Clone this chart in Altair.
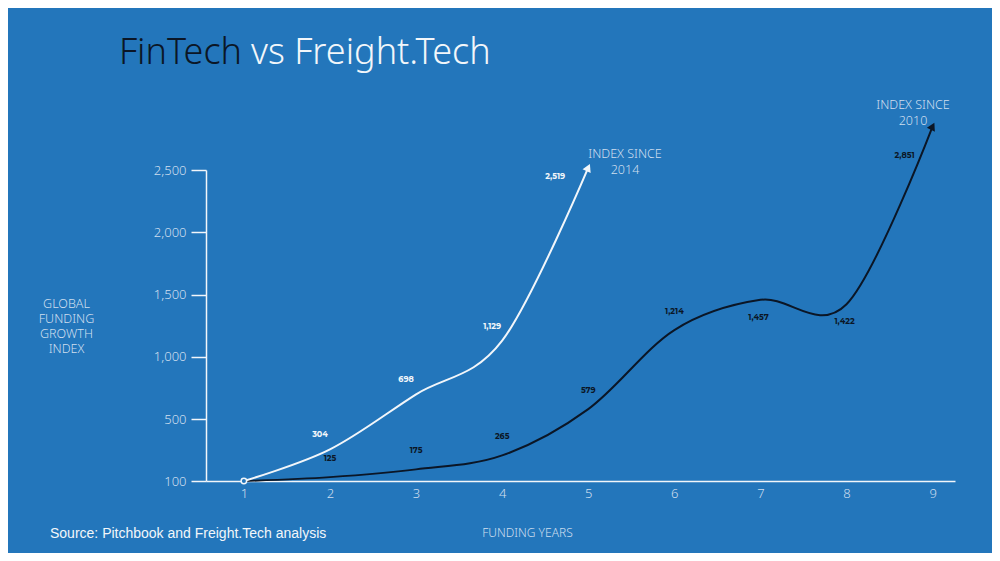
import altair as alt
import pandas as pd

# données
YEARS_FIN = [1, 2, 3, 4, 5]
FINTECH = [100, 304, 698, 1129, 2519]
YEARS_FREIGHT = [1, 2, 3, 4, 5, 6, 7, 8, 9]
FREIGHT = [100, 125, 175, 265, 579, 1214, 1457, 1422, 2851]
Y_TICKS = [100, 500, 1000, 1500, 2000, 2500]
X_TICKS = [1, 2, 3, 4, 5, 6, 7, 8, 9]

BG = "#2376bb"
LIGHT = "#cfdfef"
WHITE = "#f2f6fa"
DARK = "#0b1626"
FONT = "Noto Sans"

fin = pd.DataFrame({"annee": YEARS_FIN, "indice": FINTECH})
fin["label"] = [f"{v:,}" for v in FINTECH]
frt = pd.DataFrame({"annee": YEARS_FREIGHT, "indice": FREIGHT})
frt["label"] = [f"{v:,}" for v in FREIGHT]
one = pd.DataFrame({"k": [0]})  # une seule ligne pour les textes libres

W, H = 749, 311

x_enc = alt.X(
    "annee:Q",
    scale=alt.Scale(domain=[0.56, 9.26], nice=False, zero=False),
    axis=alt.Axis(
        values=X_TICKS, format="d", ticks=False, grid=False,
        domainColor=WHITE, domainWidth=1.5,
        labelColor=LIGHT, labelFontSize=13, labelFont=FONT, labelPadding=6,
        labelFontWeight=300,
        title="FUNDING YEARS", titleColor=LIGHT, titleFont=FONT,
        titleFontSize=12, titleFontWeight=300,
        titleX=321, titleY=51, titleBaseline="middle", titleAnchor="start",
        titleAlign="center",
    ),
)
y_enc = alt.Y(
    "indice:Q",
    # échelle par morceaux : 100 posé sur l'axe, puis pas régulier de 500
    scale=alt.Scale(domain=[100, 500, 2500], range=[H, H - 62, 0],
                    nice=False, zero=False),
    axis=alt.Axis(
        values=Y_TICKS, format=",d", grid=False,
        domainColor=WHITE, domainWidth=1.5,
        tickColor=WHITE, tickWidth=1.5, tickSize=15,
        labelColor=LIGHT, labelFontSize=13, labelFont=FONT, labelPadding=5,
        labelFontWeight=300,
        title=["GLOBAL", "FUNDING", "GROWTH", "INDEX"],
        titleColor=LIGHT, titleFont=FONT, titleFontSize=12.5,
        titleFontWeight=300, titleAngle=0, titleAlign="center",
        titleBaseline="top", titleX=-140, titleY=127, titleLineHeight=15,
    ),
)

base_fin = alt.Chart(fin).encode(x=x_enc, y=y_enc)
base_frt = alt.Chart(frt).encode(x=x_enc, y=y_enc)

line_frt = base_frt.mark_line(color=DARK, strokeWidth=2,
                              interpolate="cardinal", tension=0)
line_fin = base_fin.mark_line(color=WHITE, strokeWidth=2,
                              interpolate="cardinal", tension=0)

arrow_fin = base_fin.transform_filter("datum.annee == 5").mark_point(
    shape="triangle-up", filled=True, color=WHITE, size=80, angle=25, opacity=1)
arrow_frt = base_frt.transform_filter("datum.annee == 9").mark_point(
    shape="triangle-up", filled=True, color=DARK, size=80, angle=27, opacity=1)

start = base_fin.transform_filter("datum.annee == 1").mark_point(
    shape="circle", filled=True, fill=BG, stroke=WHITE, strokeWidth=1.5,
    size=30, opacity=1)

lab_style = dict(font="Montserrat, Lato", fontSize=8, fontWeight="bold")
lab_fin = base_fin.transform_filter("datum.annee > 1 && datum.annee < 5").mark_text(
    color=WHITE, dx=-10, dy=-14, **lab_style).encode(text="label:N")
lab_fin_end = base_fin.transform_filter("datum.annee == 5").mark_text(
    color=WHITE, dx=-33, dy=9, **lab_style).encode(text="label:N")
lab_frt_up = base_frt.transform_filter(
    "datum.annee > 1 && datum.annee < 7").mark_text(
    color=DARK, dx=0, dy=-18, **lab_style).encode(text="label:N")
lab_frt_down = base_frt.transform_filter(
    "datum.annee == 7 || datum.annee == 8").mark_text(
    color=DARK, dx=-2, dy=18, **lab_style).encode(text="label:N")
lab_frt_end = base_frt.transform_filter("datum.annee == 9").mark_text(
    color=DARK, dx=-28, dy=30, **lab_style).encode(text="label:N")


def note(txt, x, y):
    return alt.Chart(one).mark_text(
        font=FONT, fontSize=12.5, fontWeight=300, color=LIGHT,
        align="center", baseline="middle").encode(
        x=alt.value(x), y=alt.value(y), text=alt.value(txt))


notes = [
    note("INDEX SINCE", 419, -16), note("2014", 419, 0),
    note("INDEX SINCE", 707, -65), note("2010", 707, -49),
]

title_a = alt.Chart(one).mark_text(
    font=FONT, fontSize=36, fontWeight=300, color=DARK, align="right",
    baseline="alphabetic").encode(
    x=alt.value(36), y=alt.value(-106), text=alt.value("FinTech"))
title_b = alt.Chart(one).mark_text(
    font=FONT, fontSize=36, fontWeight=300, color=WHITE, align="left",
    baseline="alphabetic").encode(
    x=alt.value(45), y=alt.value(-106), text=alt.value("vs Freight.Tech"))

source = alt.Chart(one).mark_text(
    font="Liberation Sans", fontSize=14, fontWeight="normal",
    color=WHITE, align="left", baseline="middle").encode(
    x=alt.value(-156), y=alt.value(364),
    text=alt.value("Source: Pitchbook and Freight.Tech analysis"))

chart = (
    alt.layer(
        line_frt, line_fin, arrow_fin, arrow_frt, start,
        lab_fin, lab_fin_end, lab_frt_up, lab_frt_down, lab_frt_end,
        *notes, title_a, title_b, source,
    )
    .properties(
        width=W, height=H,
        autosize=alt.AutoSizeParams(type="none"),
        padding={"left": 198, "top": 162, "right": 37, "bottom": 72},
    )
    .configure(background=BG)
    .configure_view(strokeWidth=0)
)

chart.save("out.html", embed_options={"renderer": "svg", "actions": False})
